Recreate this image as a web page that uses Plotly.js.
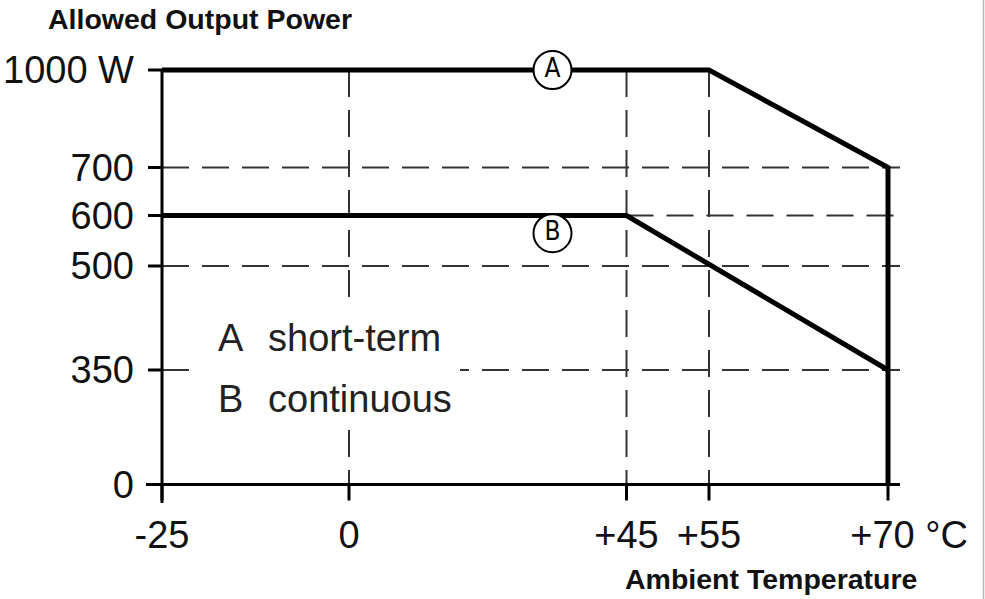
<!DOCTYPE html>
<html>
<head>
<meta charset="utf-8">
<script src="https://cdn.plot.ly/plotly-3.0.1.min.js"></script>
<style>
  html, body { margin: 0; padding: 0; background: #fff; }
  #chart { width: 985px; height: 599px; }
</style>
</head>
<body>
<div id="chart"></div>
<script>
// ---------------- data ----------------
const tempTicks = [-25, 0, 45, 55, 70];
const tempTickLabels = ['-25', '0', '+45', '+55', '\u00a0\u00a0\u00a0\u00a0+70 °C'];
const powerTicks = [0, 350, 500, 600, 700, 1000];
const powerTickLabels = ['0', '350', '500', '600', '700', '1000 W'];

// The original drawing uses a non-uniform (schematic) scale on both axes:
// drawing position of each tick value along its axis.
const tempTickPos = [0, 187, 464.5, 547, 726];
const powerTickPos = [0, 114.5, 218.5, 269, 317, 414.5];

// Curve A: short-term
const shortTermTemp = [-25, 55, 70, 70];
const shortTermPower = [1000, 1000, 700, 0];
// Curve B: continuous
const continuousTemp = [-25, 45, 70];
const continuousPower = [600, 600, 350];

// circled curve markers
const curveLabels = ['A', 'B'];
const curveLabelTemp = [33, 33];
const curveLabelPower = [1000, 565];

// legend text
const legendKeys = ['A', 'B'];
const legendNames = ['short-term', 'continuous'];

// dashed guide lines
const guideTemps = [0, 45, 55];                 // vertical, 0 .. 1000 W
const guidePowers = [700, 600, 500, 350];       // horizontal
const guidePowerStart = [-25, 45, -25, -25];    // start temperature of each horizontal guide

// ---------------- scale helpers ----------------
function interp(v, vals, pos) {
  let i = 0;
  while (i < vals.length - 2 && v > vals[i + 1]) i++;
  const t = (v - vals[i]) / (vals[i + 1] - vals[i]);
  return pos[i] + t * (pos[i + 1] - pos[i]);
}
const xs = v => interp(v, tempTicks, tempTickPos);
const ys = v => interp(v, powerTicks, powerTickPos);

// layout geometry (pixels)
const PL = 146, PR = 900, PT = 60, PB = 503;
const XMIN = -16, XMAX = XMIN + (PR - PL);
const YMIN = -18.5, YMAX = YMIN + (PB - PT);
const paperX = px => (px - PL) / (PR - PL);
const paperY = py => (PB - py) / (PB - PT);

const FONT = '"Liberation Sans", Arial, Helvetica, sans-serif';
const NARROW = '"Liberation Sans Narrow", "DejaVu Sans Condensed", "Arial Narrow", sans-serif';

const traces = [];

// dashed guides
const dashStyle = { color: '#333', width: 2, dash: '27px,13px' };
guideTemps.forEach(t => {
  traces.push({
    type: 'scatter', mode: 'lines',
    x: [xs(t), xs(t)], y: [ys(1000), ys(0)],
    line: dashStyle, hoverinfo: 'skip'
  });
});
guidePowers.forEach((p, i) => {
  traces.push({
    type: 'scatter', mode: 'lines',
    x: [xs(guidePowerStart[i]), XMAX], y: [ys(p), ys(p)],
    line: dashStyle, hoverinfo: 'skip'
  });
});

// axis lines and tick marks
const axX = [], axY = [];
axX.push(XMIN, XMAX, null); axY.push(ys(0), ys(0), null);
axX.push(xs(-25), xs(-25), null); axY.push(YMIN, ys(1000), null);
powerTicks.forEach(p => { axX.push(xs(-25) - 14, xs(-25), null); axY.push(ys(p), ys(p), null); });
tempTicks.forEach(t => { axX.push(xs(t), xs(t), null); axY.push(ys(0), ys(0) - 16, null); });
traces.push({
  type: 'scatter', mode: 'lines', x: axX, y: axY,
  line: { color: '#000', width: 3 }, hoverinfo: 'skip', connectgaps: false
});

// curves
traces.push({
  type: 'scatter', mode: 'lines',
  x: shortTermTemp.map(xs), y: shortTermPower.map(ys),
  line: { color: '#000', width: 5 }, hoverinfo: 'skip'
});
traces.push({
  type: 'scatter', mode: 'lines',
  x: continuousTemp.map(xs), y: continuousPower.map(ys),
  line: { color: '#000', width: 5 }, hoverinfo: 'skip'
});

// circled labels
traces.push({
  type: 'scatter', mode: 'markers+text',
  x: curveLabelTemp.map(xs), y: curveLabelPower.map(ys),
  text: curveLabels, textposition: 'middle center',
  textfont: { family: NARROW, size: 26, color: '#000' },
  marker: { size: 38, color: '#fff', line: { color: '#000', width: 2 } },
  cliponaxis: false, hoverinfo: 'skip'
});

const annotations = [];
annotations.push({
  xref: 'paper', yref: 'paper', x: paperX(46), y: paperY(19.5),
  xanchor: 'left', yanchor: 'middle', showarrow: false,
  text: '<b>Allowed Output Power</b>', font: { family: FONT, size: 28.5, color: '#111' }
});
annotations.push({
  xref: 'paper', yref: 'paper', x: paperX(623), y: paperY(579),
  xanchor: 'left', yanchor: 'middle', showarrow: false,
  text: '<b>Ambient Temperature</b>', font: { family: FONT, size: 28.5, color: '#111' }
});
const legendRowsY = [337.5, 398.5];
legendKeys.forEach((k, i) => {
  annotations.push({
    xref: 'paper', yref: 'paper', x: paperX(216), y: paperY(legendRowsY[i]),
    xanchor: 'left', yanchor: 'middle', showarrow: false,
    text: k, font: { family: FONT, size: 38, color: '#222' }
  });
  annotations.push({
    xref: 'paper', yref: 'paper', x: paperX(266), y: paperY(legendRowsY[i]),
    xanchor: 'left', yanchor: 'middle', showarrow: false,
    text: legendNames[i], font: { family: FONT, size: 38, color: '#222' }
  });
});

const shapes = [
  { type: 'rect', xref: 'paper', yref: 'paper', layer: 'above',
    x0: paperX(191), x1: paperX(460), y0: paperY(305), y1: paperY(425),
    fillcolor: '#fff', line: { width: 0 } },
  { type: 'line', xref: 'paper', yref: 'paper', layer: 'above',
    x0: paperX(983.5), x1: paperX(983.5), y0: paperY(0), y1: paperY(599),
    line: { color: '#b8b8b8', width: 1.5 } }
];

const layout = {
  width: 985, height: 599,
  margin: { l: PL, r: 985 - PR, t: PT, b: 599 - PB, pad: 0 },
  paper_bgcolor: '#fff', plot_bgcolor: '#fff',
  showlegend: false, hovermode: false,
  xaxis: {
    range: [XMIN, XMAX], tickmode: 'array',
    tickvals: tempTicks.map(xs), ticktext: tempTickLabels,
    showgrid: false, zeroline: false, showline: false, ticks: '',
    tickfont: { family: FONT, size: 38, color: '#111' },
    ticklabelstandoff: 6, fixedrange: true
  },
  yaxis: {
    range: [YMIN, YMAX], tickmode: 'array',
    tickvals: powerTicks.map(ys), ticktext: powerTickLabels,
    showgrid: false, zeroline: false, showline: false, ticks: '',
    tickfont: { family: FONT, size: 38, color: '#111' },
    ticklabelstandoff: 11, fixedrange: true
  },
  annotations: annotations,
  shapes: shapes
};

Plotly.newPlot('chart', traces, layout, { staticPlot: true, displayModeBar: false });
</script>
</body>
</html>
